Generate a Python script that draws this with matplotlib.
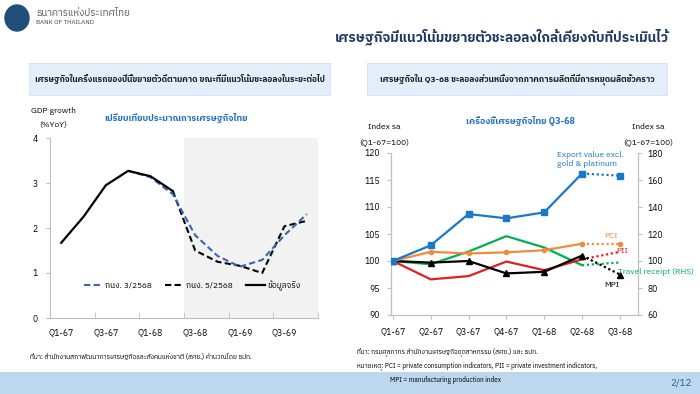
import matplotlib
matplotlib.use("Agg")
import matplotlib.pyplot as plt
from matplotlib import font_manager
from matplotlib.patches import Rectangle, Ellipse

# pick a font with Thai glyphs if there is one
thai = sorted({f.name for f in font_manager.fontManager.ttflist if "Thai" in f.name})
plt.rcParams["font.family"] = thai[:1] + ["DejaVu Sans"]

# ---- left chart data: GDP growth (%YoY) ----
gdp_q = ["Q1-67", "Q2-67", "Q3-67", "Q4-67", "Q1-68", "Q2-68",
         "Q3-68", "Q4-68", "Q1-69", "Q2-69", "Q3-69", "Q4-69"]
gdp_actual = [1.67, 2.25, 2.95, 3.27, 3.15, 2.82]
mpr3_start = 3
mpr3 = [3.27, 3.13, 2.75, 1.84, 1.38, 1.14, 1.29, 1.84, 2.31]
mpr5_start = 5
mpr5 = [2.82, 1.50, 1.25, 1.16, 1.00, 2.04, 2.16]

# ---- right chart data: indicators, index sa (Q1-67=100) ----
ind_q = ["Q1-67", "Q2-67", "Q3-67", "Q4-67", "Q1-68", "Q2-68", "Q3-68"]
export = [100.0, 102.9, 108.7, 107.9, 109.0, 116.2, 115.8]
pci = [100.0, 101.7, 101.4, 101.6, 102.0, 103.2, 103.2]
pii = [100.0, 96.6, 97.2, 99.9, 98.3, 100.3, 101.7]
mpi = [100.0, 99.7, 100.0, 97.7, 98.0, 101.0, 97.5]
travel = [100.0, 97.6, 107.0, 118.4, 110.0, 96.9, 98.9]  # RHS

navy = "#1f3864"
grey_ax = "#bfbfbf"
fs = 6.2

fig = plt.figure(figsize=(7, 3.94), dpi=100)
W, H = 700, 394


def fx(px):
    return px / W


def fy(py):
    return 1 - py / H


# header
fig.patches.append(Ellipse((fx(17), fy(18)), 24 / W, 26 / H, transform=fig.transFigure,
                           color="#1f4e79"))
fig.text(fx(36), fy(13), "ธนาคารแห่งประเทศไทย", fontsize=7, color="#595959", va="center")
fig.text(fx(36), fy(23), "BANK OF THAILAND", fontsize=4.5, color="#404040", va="center")
fig.text(fx(669), fy(37), "เศรษฐกิจมีแนวโน้มขยายตัวชะลอลงใกล้เคียงกับที่ประเมินไว้",
         fontsize=9.8, color=navy, weight="bold", ha="right", va="center")

for x0, x1, txt in [(29, 330, "เศรษฐกิจในครึ่งแรกของปีนี้ขยายตัวดีตามคาด ขณะที่มีแนวโน้มชะลอลงในระยะต่อไป"),
                    (367, 667, "เศรษฐกิจใน Q3-68 ชะลอลงส่วนหนึ่งจากภาคการผลิตที่มีการหยุดผลิตชั่วคราว")]:
    fig.patches.append(Rectangle((fx(x0), fy(95)), (x1 - x0) / W, 32 / H,
                                 transform=fig.transFigure, facecolor="#e3eefa",
                                 edgecolor="#cfe0f2", lw=0.6))
    fig.text(fx((x0 + x1) / 2), fy(79), txt, fontsize=6.05, color="#1a1a1a",
             ha="center", va="center", weight="bold")

# bottom band
fig.patches.append(Rectangle((0, 0), 1, 22 / H, transform=fig.transFigure,
                             facecolor="#bdd7ee", edgecolor="none"))
fig.text(fx(692), fy(383), "2/12", fontsize=7, color="#2e5c8a", ha="right", va="center")

# ---- left chart ----
ax1 = fig.add_axes([fx(50), fy(318), fx(318) - fx(50), (318 - 138) / H])
xs = list(range(len(gdp_q)))
ax1.axvspan(5.5, 11.5, color="#f2f2f2", lw=0, zorder=0)
ax1.plot(xs[mpr3_start:mpr3_start + len(mpr3)], mpr3, color="#3a63b0", lw=1.5,
         ls=(0, (3, 1.6)), label="กนง. 3/2568", zorder=3)
ax1.plot(xs[mpr5_start:mpr5_start + len(mpr5)], mpr5, color="black", lw=1.5,
         ls=(0, (3, 1.6)), label="กนง. 5/2568", zorder=2)
ax1.plot(xs[:len(gdp_actual)], gdp_actual, color="black", lw=1.6, label="ข้อมูลจริง", zorder=4)
ax1.set_xlim(-0.5, 11.5)
ax1.set_ylim(0, 4)
ax1.set_yticks([0, 1, 2, 3, 4])
ax1.set_xticks(xs[::2])
ax1.set_xticklabels(gdp_q[::2], fontsize=fs)
ax1.set_xticks([-0.5, 1.5, 3.5, 5.5, 7.5, 9.5, 11.5], minor=True)
ax1.tick_params(axis="x", which="major", length=0, pad=7)
ax1.tick_params(axis="x", which="minor", length=4, color=grey_ax, direction="in")
ax1.tick_params(axis="y", labelsize=fs, length=3, color=grey_ax, pad=6)
for s in ["top", "right"]:
    ax1.spines[s].set_visible(False)
for s in ["left", "bottom"]:
    ax1.spines[s].set_color(grey_ax)
ax1.set_facecolor("none")
ax1.legend(loc="lower center", bbox_to_anchor=(0.53, 0.11), ncol=3, frameon=False,
           fontsize=6, handlelength=2.3, columnspacing=1.5, handletextpad=0.3)
fig.text(fx(53), fy(111), "GDP growth", fontsize=6, ha="center", va="center")
fig.text(fx(53), fy(125), "(%YoY)", fontsize=6, ha="center", va="center")
fig.text(fx(176), fy(118), "เปรียบเทียบประมาณการเศรษฐกิจไทย", fontsize=6.5,
         color="#1f6fc5", ha="center", va="center", weight="bold")
fig.text(fx(30), fy(357), "ที่มา: สำนักงานสภาพัฒนาการเศรษฐกิจและสังคมแห่งชาติ (สศช.) คำนวณโดย ธปท.",
         fontsize=4.8, va="center")

# ---- right chart ----
ax2 = fig.add_axes([fx(391), fy(315), fx(638) - fx(391), (315 - 153) / H])
ax3 = ax2.twinx()
xi = list(range(len(ind_q)))


def draw(ax, vals, color, marker=None, ms=4):
    ax.plot(xi[:-1], vals[:-1], color=color, lw=1.6, marker=marker, ms=ms, zorder=3)
    ax.plot(xi[-2:], vals[-2:], color=color, lw=1.6, ls=(0, (1, 1.2)), zorder=3)
    if marker:
        ax.plot(xi[-1:], vals[-1:], color=color, marker=marker, ms=ms, ls="none", zorder=3)


draw(ax3, travel, "#00b050")
draw(ax2, pii, "#e02020")
draw(ax2, mpi, "black", "^", 4)
draw(ax2, pci, "#f08a3c", "o", 3)
draw(ax2, export, "#1a78c8", "s", 4.5)
ax2.set_zorder(ax3.get_zorder() + 1)
ax2.patch.set_visible(False)

ax2.set_xlim(-0.05, 6.48)
ax2.set_ylim(90, 120)
ax3.set_ylim(60, 180)
ax2.set_yticks(range(90, 121, 5))
ax3.set_yticks(range(60, 181, 20))
ax2.set_xticks(xi)
ax2.set_xticklabels(ind_q, fontsize=fs)
ax2.tick_params(axis="x", length=3, color=grey_ax, pad=6)
ax2.tick_params(axis="y", labelsize=fs, length=3, color=grey_ax, pad=5)
ax3.tick_params(axis="y", labelsize=fs, length=3, color=grey_ax, pad=4)
for a in (ax2, ax3):
    a.spines["top"].set_visible(False)
    for s in ["left", "right", "bottom"]:
        a.spines[s].set_color(grey_ax)

ax2.text(4.35, 118.8, "Export value excl.\ngold & platinum", fontsize=6, color="#1a78c8",
         va="center", linespacing=1.2)
ax2.text(5.6, 104.7, "PCI", fontsize=6, color="#f08a3c", va="center")
ax2.text(5.9, 101.9, "PII", fontsize=6, color="#e02020", va="center")
ax2.text(5.95, 98.0, "Travel receipt (RHS)", fontsize=6, color="#00b050", va="center")
ax2.text(5.6, 95.5, "MPI", fontsize=6, color="black", va="center")

fig.text(fx(384), fy(127), "Index sa", fontsize=6, ha="center", va="center")
fig.text(fx(384), fy(142), "(Q1-67=100)", fontsize=6, ha="center", va="center")
fig.text(fx(648), fy(127), "Index sa", fontsize=6, ha="center", va="center")
fig.text(fx(648), fy(142), "(Q1-67=100)", fontsize=6, ha="center", va="center")
fig.text(fx(520), fy(121), "เครื่องชี้เศรษฐกิจไทย Q3-68", fontsize=6.5,
         color="#1f6fc5", ha="center", va="center", weight="bold")
fig.text(fx(357), fy(352), "ที่มา: กรมศุลกากร สำนักงานเศรษฐกิจอุตสาหกรรม (สศอ.) และ ธปท.",
         fontsize=4.7, va="center")
fig.text(fx(357), fy(366), "หมายเหตุ: PCI = private consumption indicators, PII = private investment indicators,",
         fontsize=4.7, va="center")
fig.text(fx(390), fy(380), "MPI = manufacturing production index", fontsize=4.7, va="center")

fig.savefig("out.png", dpi=100)
